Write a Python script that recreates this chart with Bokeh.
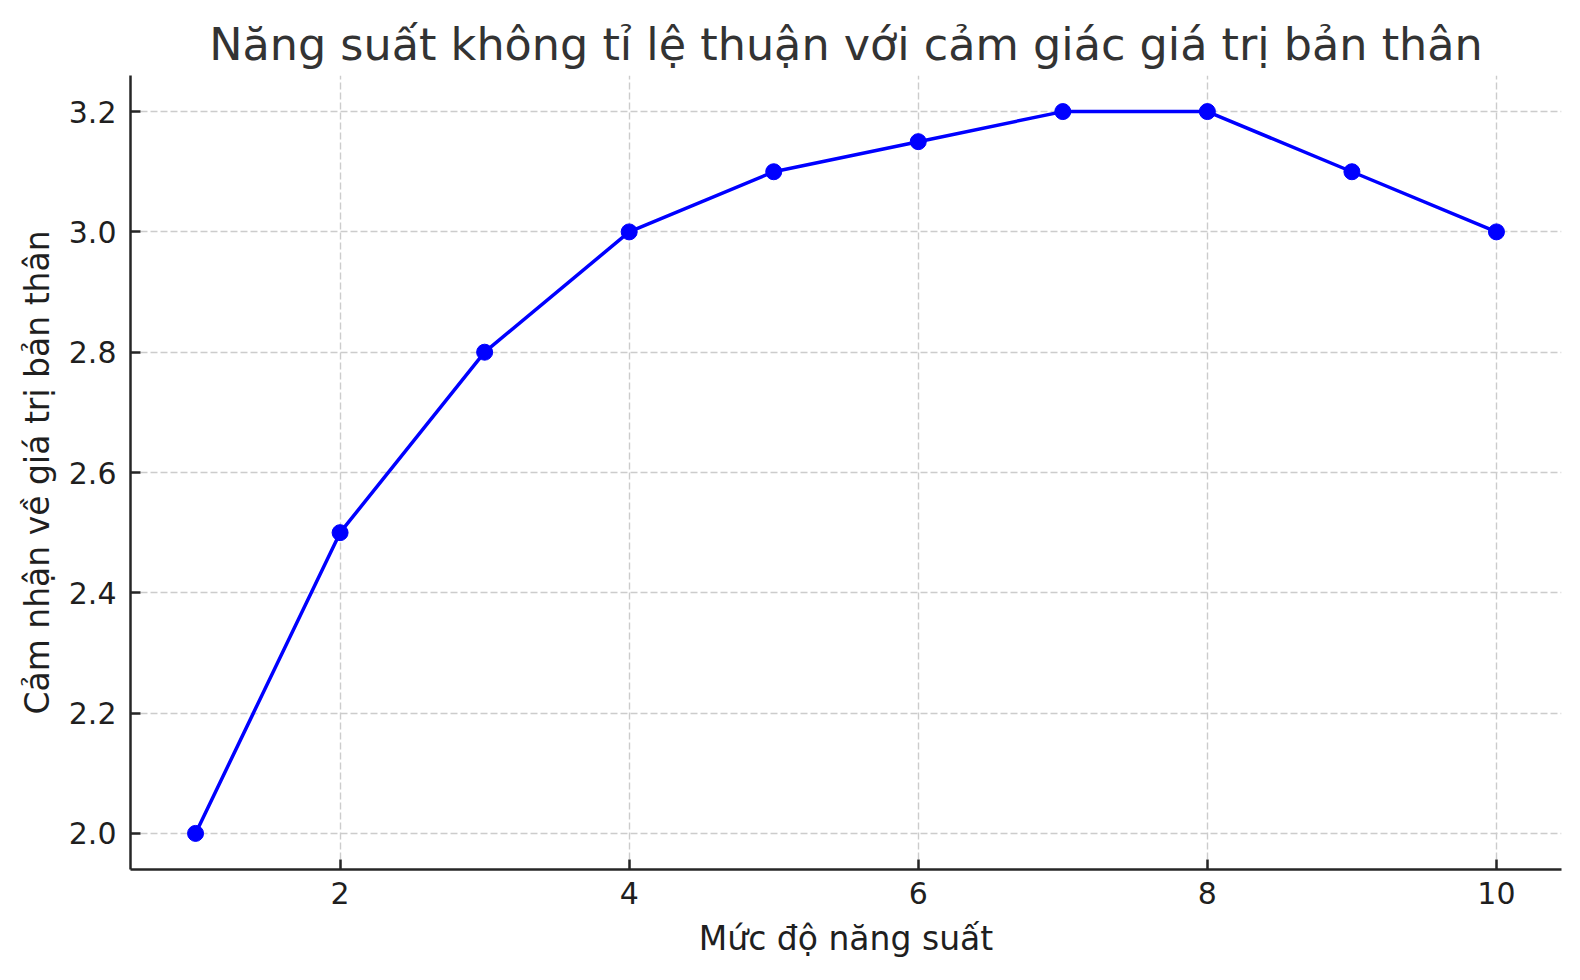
from bokeh.plotting import figure
from bokeh.models import FixedTicker, PrintfTickFormatter, Range1d
from bokeh.embed import file_html
from bokeh.resources import INLINE

# Data
productivity = [1, 2, 3, 4, 5, 6, 7, 8, 9, 10]
self_worth = [2.0, 2.5, 2.8, 3.0, 3.1, 3.15, 3.2, 3.2, 3.1, 3.0]
x_ticks = [2, 4, 6, 8, 10]
y_ticks = [2.0, 2.2, 2.4, 2.6, 2.8, 3.0, 3.2]

title_text = "Năng suất không tỉ lệ thuận với cảm giác giá trị bản thân"
x_label = "Mức độ năng suất"
y_label = "Cảm nhận về giá trị bản thân"

FONT = "DejaVu Sans"

p = figure(width=1564, height=964, output_backend="svg", toolbar_location=None,
           x_range=Range1d(0.55, 10.45), y_range=Range1d(1.94, 3.26),
           min_border_left=130, min_border_right=3, min_border_top=75, min_border_bottom=95)

p.title.text = title_text
p.title.align = "center"
p.title.text_font = FONT
p.title.text_font_size = "44.5px"
p.title.text_font_style = "normal"
p.title.text_color = "#333333"
p.title.standoff = 12

p.outline_line_color = None
p.background_fill_color = "white"
p.border_fill_color = "white"

for ax in (p.xaxis[0], p.yaxis[0]):
    ax.axis_line_color = "#262626"
    ax.axis_line_width = 2.5
    ax.major_tick_line_color = "#262626"
    ax.major_tick_line_width = 2.5
    ax.major_tick_in = 10
    ax.major_tick_out = 0
    ax.minor_tick_line_color = None
    ax.major_label_text_font = FONT
    ax.major_label_text_font_size = "30px"
    ax.major_label_text_color = "#1f1f1f"
    ax.axis_label_text_font = FONT
    ax.axis_label_text_font_size = "33px"
    ax.axis_label_text_font_style = "normal"
    ax.axis_label_text_color = "#1f1f1f"

p.xaxis[0].major_label_standoff = 12
p.yaxis[0].major_label_standoff = 14
p.xaxis[0].ticker = FixedTicker(ticks=x_ticks)
p.yaxis[0].ticker = FixedTicker(ticks=y_ticks)
p.yaxis[0].formatter = PrintfTickFormatter(format="%.1f")
p.xaxis[0].axis_label = x_label
p.yaxis[0].axis_label = y_label
p.xaxis[0].axis_label_standoff = 12
p.yaxis[0].axis_label_standoff = 9

for g in (p.xgrid[0], p.ygrid[0]):
    g.grid_line_color = "#cccccc"
    g.grid_line_width = 1.4
    g.grid_line_dash = "7 3"

p.line(productivity, self_worth, line_color="#0000ff", line_width=3.5)
p.scatter(productivity, self_worth, size=16, fill_color="#0000ff", line_color="#0000ff")

open("out.html", "w").write(file_html(p, INLINE))
